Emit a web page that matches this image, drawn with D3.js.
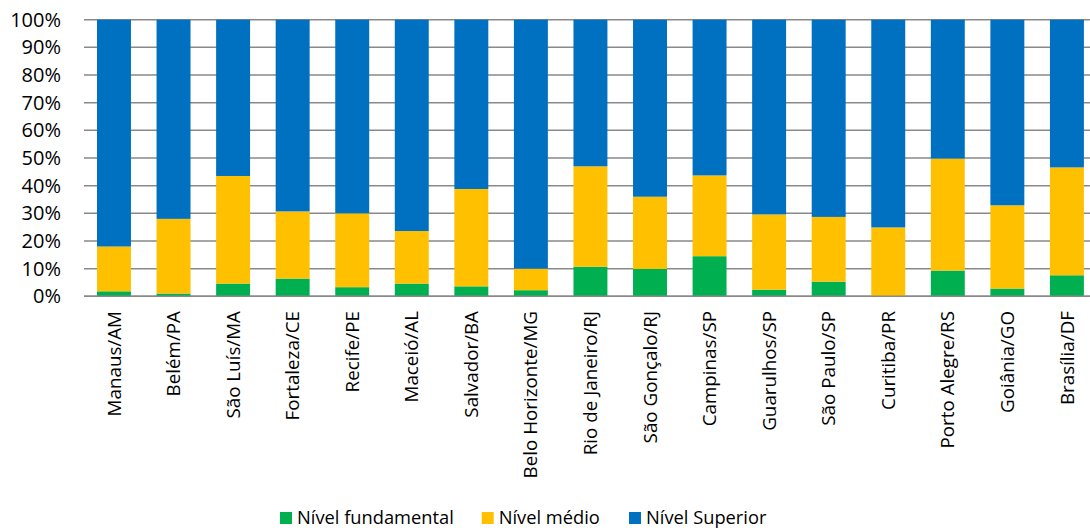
<!DOCTYPE html>
<html>
<head>
<meta charset="utf-8">
<script src="https://cdn.jsdelivr.net/npm/d3@7"></script>
<style>
  body { margin: 0; background: #fff; }
  text { font-family: "Open Sans", sans-serif; fill: #000; }
</style>
</head>
<body>
<div id="chart"></div>
<script>
// cities along the x axis
const cities = ["Manaus/AM", "Belém/PA", "São Luís/MA", "Fortaleza/CE", "Recife/PE", "Maceió/AL",
  "Salvador/BA", "Belo Horizonte/MG", "Rio de Janeiro/RJ", "São Gonçalo/RJ", "Campinas/SP",
  "Guarulhos/SP", "São Paulo/SP", "Curitiba/PR", "Porto Alegre/RS", "Goiânia/GO", "Brasília/DF"]

// shares in percent
const fundamental = [1.8, 1.0, 4.6, 6.4, 3.3, 4.6, 3.6, 2.2, 10.7, 9.9, 14.5, 2.4, 5.3, 0.0, 9.3, 2.8, 7.6]
const medio = [16.2, 27.0, 38.9, 24.3, 26.7, 19.0, 35.2, 7.8, 36.3, 26.1, 29.2, 27.2, 23.4, 24.9, 40.5, 30.1, 39.0]
const superior = [82.0, 72.0, 56.5, 69.3, 70.0, 76.4, 61.2, 90.0, 53.0, 64.0, 56.3, 70.4, 71.3, 75.1, 50.2, 67.1, 53.4]

const seriesNames = ["Nível fundamental", "Nível médio", "Nível Superior"]
const colors = ["#00B050", "#FFC000", "#0070C0"]
const yTicks = [0, 10, 20, 30, 40, 50, 60, 70, 80, 90, 100]

const W = 1090, H = 528
const svg = d3.select("#chart").append("svg")
    .attr("width", W)
    .attr("height", H)

const x = d3.scaleBand()
    .domain(cities)
    .range([84.2, 1096.7])
    .paddingInner(0.43)
    .paddingOuter(0.215)

const y = d3.scaleLinear()
    .domain([0, 100])
    .range([296.3, 19.7])

// gridlines
svg.append("g")
  .selectAll("line")
  .data(yTicks)
  .join("line")
    .attr("x1", 84)
    .attr("x2", W)
    .attr("y1", d => y(d))
    .attr("y2", d => y(d))
    .attr("stroke", "#898989")
    .attr("stroke-width", 1.5)

// y tick labels
svg.append("g")
  .selectAll("text")
  .data(yTicks)
  .join("text")
    .attr("x", 61)
    .attr("y", d => y(d))
    .attr("dy", "0.35em")
    .attr("text-anchor", "end")
    .style("font-size", "20px")
    .text(d => d + "%")

// stack the data
const rows = cities.map((c, i) => ({city: c, f: fundamental[i], m: medio[i], s: superior[i]}))
const stack = d3.stack().keys(["f", "m", "s"])(rows)

svg.append("g")
  .selectAll("g")
  .data(stack)
  .join("g")
    .attr("fill", (d, i) => colors[i])
  .selectAll("rect")
  .data(d => d)
  .join("rect")
    .attr("x", d => x(d.data.city))
    .attr("width", x.bandwidth())
    .attr("y", d => y(d[1]))
    .attr("height", d => y(d[0]) - y(d[1]))

// x axis line
svg.append("line")
    .attr("x1", 84).attr("x2", W)
    .attr("y1", y(0)).attr("y2", y(0))
    .attr("stroke", "#898989")
    .attr("stroke-width", 1.5)

// rotated city labels
svg.append("g")
  .selectAll("text")
  .data(cities)
  .join("text")
    .attr("transform", d => `translate(${x(d) + x.bandwidth() / 2},311) rotate(-90)`)
    .attr("dy", "0.35em")
    .attr("text-anchor", "end")
    .style("font-size", "18.8px")
    .text(d => d)

// legend
const legendX = [280, 481.7, 629]
const legend = svg.append("g")
  .selectAll("g")
  .data(seriesNames)
  .join("g")
    .attr("transform", (d, i) => `translate(${legendX[i]},512)`)

legend.append("rect")
    .attr("width", 12)
    .attr("height", 12)
    .attr("fill", (d, i) => colors[i])

legend.append("text")
    .attr("x", 17)
    .attr("y", 6)
    .attr("dy", "0.35em")
    .style("font-size", "18.3px")
    .text(d => d)
</script>
</body>
</html>
